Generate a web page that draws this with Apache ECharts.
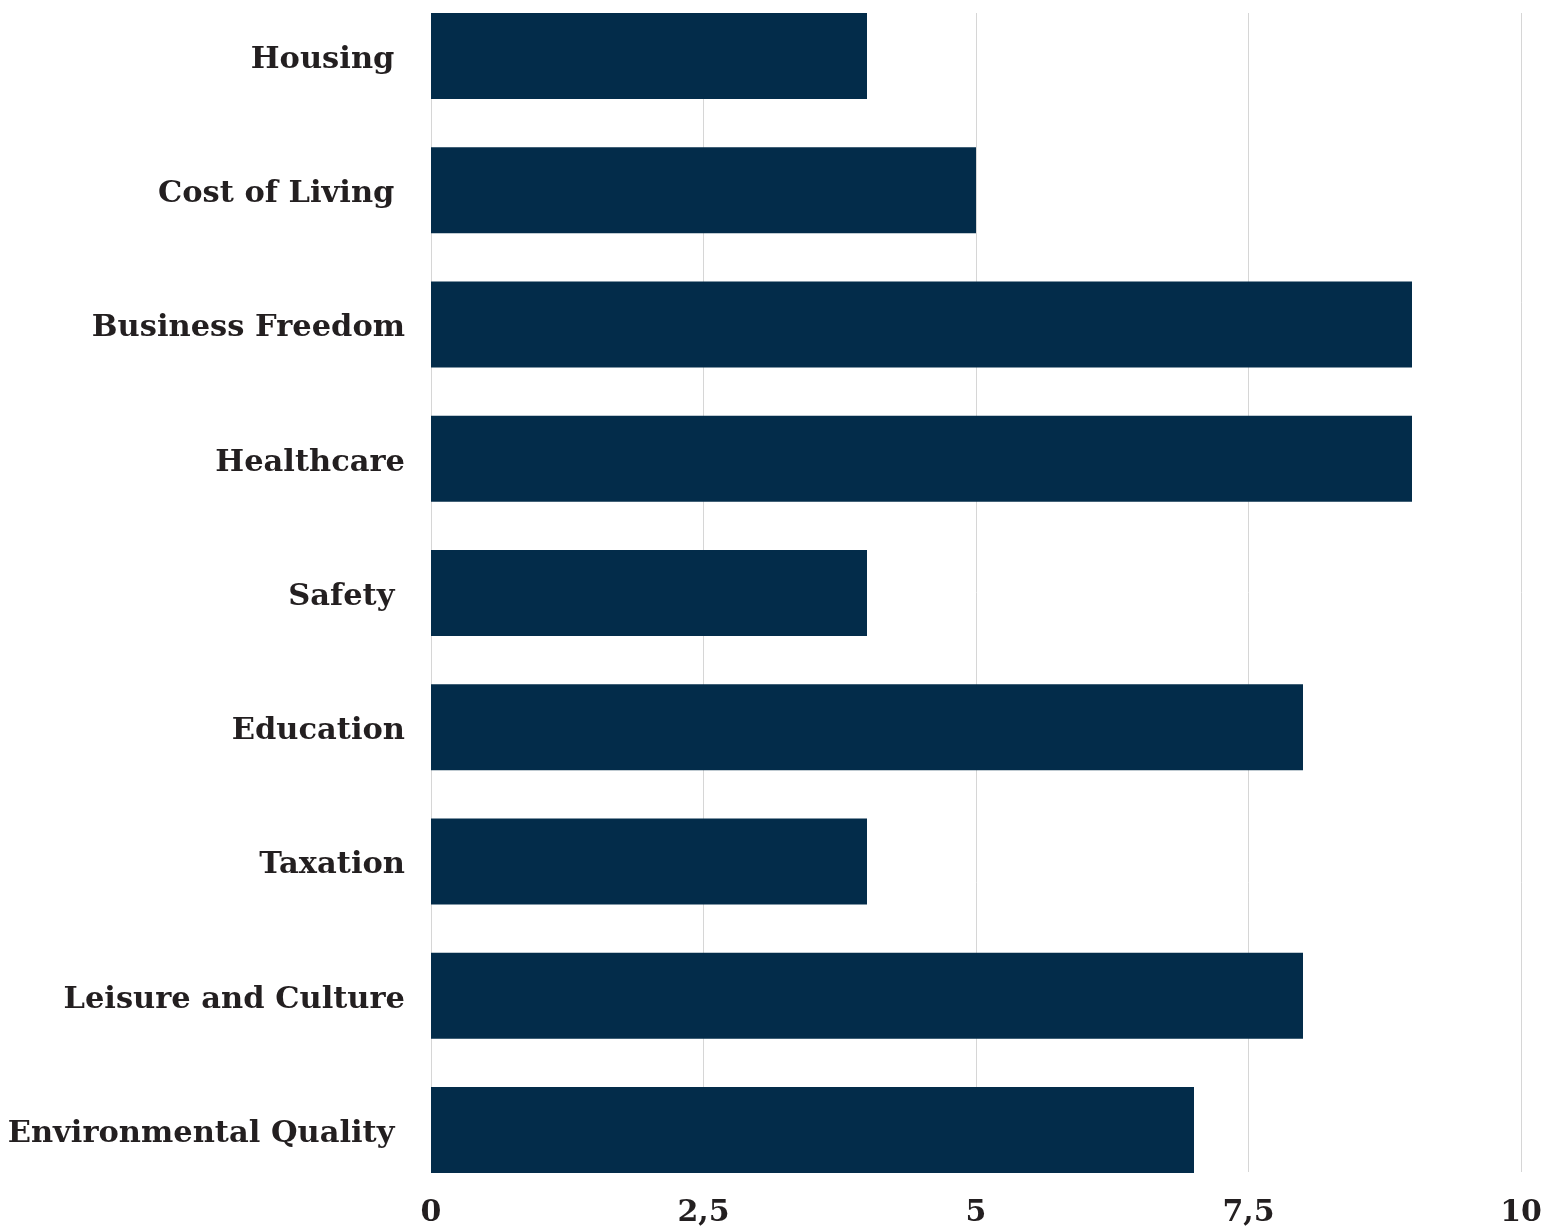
<!DOCTYPE html>
<html>
<head>
<meta charset="utf-8">
<script src="https://cdn.jsdelivr.net/npm/echarts@6/dist/echarts.min.js"></script>
<style>
  html, body { margin: 0; padding: 0; background: #ffffff; }
  #chart { width: 1553px; height: 1228px; }
</style>
</head>
<body>
<div id="chart"></div>
<script>
// Categories (trailing spaces kept as in the original labels)
const categories = [
  'Housing ',
  'Cost of Living ',
  'Business Freedom',
  'Healthcare',
  'Safety ',
  'Education',
  'Taxation',
  'Leisure and Culture',
  'Environmental Quality '
];
const scores = [4, 5, 9, 9, 4, 8, 4, 8, 7];
const axisMin = 0;
const axisMax = 10;
const axisStep = 2.5;

const FONT = '"DejaVu Serif", "Liberation Serif", serif';
const TEXT = '#231f20';
const BAR = '#032c4a';

const chart = echarts.init(document.getElementById('chart'), null, { renderer: 'canvas' });

chart.setOption({
  animation: false,
  backgroundColor: '#ffffff',
  grid: [
    // gridlines + value labels
    { left: 431, right: 32, top: 13, height: 1159, outerBoundsMode: 'none', containLabel: false },
    // bars + category labels (bands sized so the outer bars touch the gridline ends)
    { left: 431, right: 32, top: -11.125, height: 1208.25, outerBoundsMode: 'none', containLabel: false }
  ],
  xAxis: [
    {
      gridIndex: 0,
      type: 'value',
      min: axisMin,
      max: axisMax,
      interval: axisStep,
      axisLine: { show: false },
      axisTick: { show: false },
      splitLine: { show: true, lineStyle: { color: '#d6d6d6', width: 1 } },
      axisLabel: {
        margin: 26,
        color: TEXT,
        fontFamily: FONT,
        fontWeight: 'bold',
        fontSize: 30,
        formatter: v => String(v).replace('.', ',')
      }
    },
    {
      gridIndex: 1,
      type: 'value',
      min: axisMin,
      max: axisMax,
      show: false
    }
  ],
  yAxis: [
    {
      gridIndex: 0,
      type: 'category',
      data: categories,
      inverse: true,
      show: false
    },
    {
      gridIndex: 1,
      type: 'category',
      data: categories,
      inverse: true,
      axisLine: { show: false },
      axisTick: { show: false },
      splitLine: { show: false },
      axisLabel: {
        margin: 26,
        verticalAlign: 'top',
        lineHeight: 8,
        color: TEXT,
        fontFamily: FONT,
        fontWeight: 'bold',
        fontSize: 30.5
      }
    }
  ],
  series: [
    {
      type: 'bar',
      xAxisIndex: 1,
      yAxisIndex: 1,
      data: scores,
      barWidth: 86,
      itemStyle: { color: BAR }
    }
  ]
});
</script>
</body>
</html>
